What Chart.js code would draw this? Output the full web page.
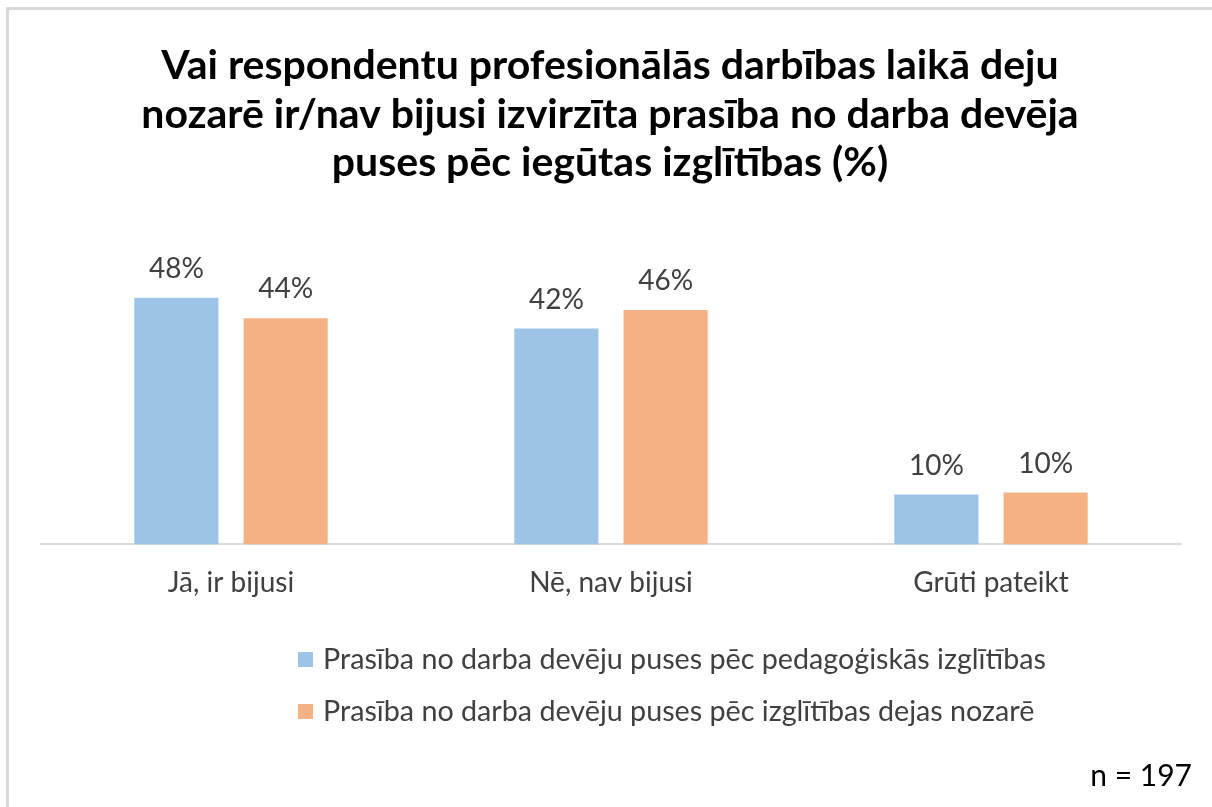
<!DOCTYPE html>
<html>
<head>
<meta charset="utf-8">
<script src="https://cdn.jsdelivr.net/npm/chart.js@4.4.1/dist/chart.umd.min.js"></script>
<style>
html,body{margin:0;padding:0;background:#fff;}
#wrap{position:relative;width:1212px;height:807px;}
canvas{display:block;}
</style>
</head>
<body>
<div id="wrap"><canvas id="c" width="1212" height="807"></canvas></div>
<script>
const titleLines = [
  "Vai respondentu profesionālās darbības laikā deju",
  "nozarē ir/nav bijusi izvirzīta prasība no darba devēja",
  "puses pēc iegūtas izglītības (%)"
];
const categories = ["Jā, ir bijusi", "Nē, nav bijusi", "Grūti pateikt"];
const seriesNames = [
  "Prasība no darba devēju puses pēc pedagoģiskās izglītības",
  "Prasība no darba devēju puses pēc izglītības dejas nozarē"
];
const pedagogical = [48, 42, 9.7];
const danceEducation = [44, 45.6, 10.1];
const sampleNote = "n = 197";

const colors = ["#9DC3E6", "#F4B183"];
const textColor = "#404040";
const fontFam = "Lato, 'Noto Sans', sans-serif";

const decorPlugin = {
  id: 'decor',
  beforeDraw(chart) {
    const ctx = chart.ctx;
    ctx.save();
    ctx.fillStyle = '#ffffff';
    ctx.fillRect(0, 0, chart.width, chart.height);
    ctx.fillStyle = '#d9d9d9';
    ctx.fillRect(6, 7, chart.width - 6, 3);
    ctx.fillRect(6, 7, 3, chart.height - 7);
    ctx.restore();
  },
  afterDraw(chart) {
    const ctx = chart.ctx;
    ctx.save();
    // title
    ctx.fillStyle = '#000000';
    ctx.font = "bold 41px " + fontFam;
    ctx.textAlign = 'center';
    ctx.textBaseline = 'middle';
    const tys = [66, 115, 163];
    titleLines.forEach((t, i) => ctx.fillText(t, 610, tys[i]));
    // legend
    ctx.font = "28.7px " + fontFam;
    ctx.textAlign = 'left';
    const lys = [660, 712];
    chart.data.datasets.forEach((ds, i) => {
      ctx.fillStyle = ds.backgroundColor;
      ctx.fillRect(298, lys[i] - 8, 15, 15);
      ctx.fillStyle = textColor;
      ctx.fillText(ds.label, 323, lys[i]);
    });
    // n
    ctx.font = "30px " + fontFam;
    ctx.textAlign = 'right';
    ctx.fillStyle = '#000000';
    ctx.fillText(sampleNote, 1192, 776);
    ctx.restore();
  },
  afterDatasetsDraw(chart) {
    const ctx = chart.ctx;
    ctx.save();
    ctx.font = "28px " + fontFam;
    ctx.fillStyle = textColor;
    ctx.textAlign = 'center';
    ctx.textBaseline = 'middle';
    chart.data.datasets.forEach((ds, di) => {
      const meta = chart.getDatasetMeta(di);
      meta.data.forEach((el, i) => {
        ctx.fillText(Math.round(ds.data[i]) + '%', el.x, el.y - 29);
      });
    });
    ctx.restore();
  }
};

new Chart(document.getElementById('c'), {
  type: 'bar',
  data: {
    labels: categories,
    datasets: [
      { label: seriesNames[0], data: pedagogical, backgroundColor: colors[0] },
      { label: seriesNames[1], data: danceEducation, backgroundColor: colors[1] }
    ]
  },
  options: {
    responsive: false,
    animation: false,
    devicePixelRatio: 1,
    categoryPercentage: 0.575,
    barPercentage: 0.77,
    layout: { padding: { top: 236, left: 41, right: 31, bottom: 185 } },
    plugins: {
      legend: { display: false },
      title: { display: false },
      tooltip: { enabled: false }
    },
    scales: {
      x: {
        grid: { display: false, drawTicks: false, tickLength: 0 },
        border: { display: true, color: '#d9d9d9', width: 2 },
        ticks: { color: textColor, font: { family: fontFam, size: 28 }, padding: 22 }
      },
      y: {
        display: false,
        min: 0,
        max: 60
      }
    }
  },
  plugins: [decorPlugin]
});
</script>
</body>
</html>
